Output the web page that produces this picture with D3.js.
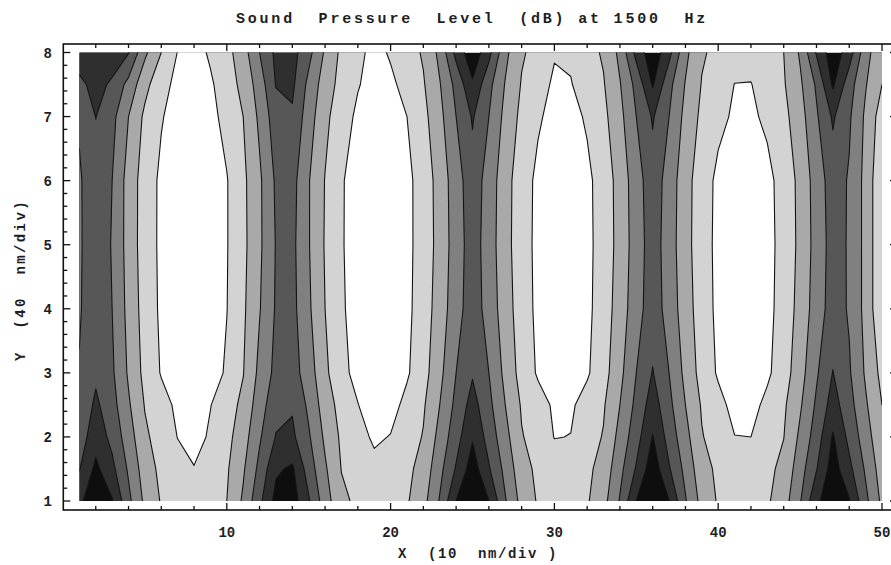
<!DOCTYPE html>
<html>
<head>
<meta charset="utf-8">
<script src="https://cdn.jsdelivr.net/npm/d3@7"></script>
<style>
  body { margin: 0; background: #fff; }
  svg { display: block; }
  text { font-family: "Liberation Mono", "DejaVu Sans Mono", monospace; font-weight: bold; fill: #1e1e1e; white-space: pre; }
</style>
</head>
<body>
<svg width="891" height="565"></svg>
<script>
// grid columns (x, 10 nm/div) and rows (y, 40 nm/div) of the sampled field
const xCols = [1,2,3,4,5,6,7,8,9,10,11,12,13,14,15,16,17,18,19,20,21,22,23,24,25,
               26,27,28,29,30,31,32,33,34,35,36,37,38,39,40,41,42,43,44,45,46,47,48,49,50];
const yRows = [1, 1.5, 2, 2.5, 3, 4, 5, 6, 7, 7.5, 8];

// level, one row per y (0 = black ... 6+ = white)
const rowY1   = [1.22,0.28,0.92,2.75,4.22,5.08,5.33,5.5,5.25,5.0, 3.85,2.25,0.68,0.52,1.89,3.54,4.78,5.2,5.45,5.35, 5.1,4.33,2.92,0.98,0.2,0.98,2.92,4.33,5.1,5.35, 5.35,5.1,4.33,2.92,0.98,0.2,0.98,2.92,4.33,5.1, 5.35,5.38,5.13,4.44,3.08,1.22,0.28,0.92,2.75,4.22];
const rowY1_5 = [2.05,0.77,1.74,3.14,4.5,5.25,5.66,5.95,5.54,5.12, 4.13,2.73,1.15,0.85,2.46,3.86,5.03,5.38,5.73,5.59, 5.24,4.63,3.29,1.9,0.5,1.9,3.29,4.63,5.21,5.52, 5.52,5.21,4.63,3.29,1.9,0.4,1.9,3.29,4.63,5.2, 5.48,5.51,5.23,4.75,3.43,2.05,0.53,1.74,3.14,4.5];
const rowY2   = [2.52,1.4,2.28,3.53,4.81,5.47,6.02,6.4,5.85,5.3, 4.44,3.13,1.95,1.8,2.88,4.19,5.17,5.66,6.15,5.96, 5.47,4.94,3.67,2.4,1.1,2.4,3.67,4.94,5.39,6.03, 5.98,5.39,4.94,3.67,2.4,0.95,2.4,3.67,4.94,5.45, 5.98,6.0,5.45,5.02,3.8,2.52,0.9,2.28,3.53,4.81];
const rowY2_5 = [2.84,1.8,2.63,3.87,5.06,5.63,6.2,6.6,6.03,5.46, 4.75,3.47,2.32,2.11,3.2,4.5,5.36,5.97,6.58,6.34, 5.73,5.12,4.0,2.74,1.6,2.74,4.0,5.1,5.62,6.14, 6.14,5.62,5.1,4.0,2.74,1.5,2.74,4.0,5.1,5.7, 6.3,6.32,5.75,5.16,4.13,2.84,1.57,2.63,3.87,5.0];
const rowY3   = [2.95,2.2,2.85,4.13,5.29,6.07,6.56,6.9,6.41,5.88, 5.04,3.75,2.72,2.58,3.5,4.8,5.71,6.32,6.8,6.61, 6.12,5.38,4.27,3.0,2.1,3.0,4.27,5.38,6.12,6.61, 6.61,6.12,5.38,4.27,3.0,1.95,3.0,4.27,5.38,6.12, 6.61,6.66,6.17,5.46,4.4,3.13,1.97,2.89,4.13,5.29];
const rowY4   = [3.08,2.45,3.0,4.3,5.43,6.17,6.66,7.0,6.51,6.02, 5.17,4.06,2.9,2.7,3.84,5.0,5.87,6.41,6.9,6.71, 6.22,5.52,4.53,3.41,2.45,3.41,4.53,5.52,6.22,6.71, 6.71,6.22,5.52,4.53,3.41,2.45,3.41,4.53,5.52,6.22, 6.71,6.76,6.27,5.61,4.65,3.52,2.54,3.1,4.3,5.9];
const rowY5   = [3.1,2.5,3.05,4.4,5.5,6.19,6.67,7.0,6.52,6.05, 5.25,4.18,2.95,2.75,3.94,5.08,5.92,6.43,6.9,6.71, 6.24,5.58,4.65,3.5,2.5,3.5,4.65,5.58,6.24,6.71, 6.71,6.24,5.58,4.65,3.5,2.5,3.5,4.65,5.58,6.24, 6.71,6.76,6.29,5.67,4.76,3.61,2.59,3.1,4.3,5.9];
const rowY6   = [3.1,2.45,3.0,4.4,5.48,6.19,6.67,7.0,6.52,6.05, 5.22,4.17,2.85,2.65,3.94,5.04,5.91,6.43,6.9,6.71, 6.24,5.57,4.61,3.44,2.4,3.44,4.61,5.57,6.21,6.64, 6.64,6.21,5.57,4.61,3.44,2.4,3.44,4.61,5.57,6.2, 6.61,6.65,6.24,5.65,4.72,3.56,2.49,3.1,4.3,5.9];
const rowY7   = [2.9,1.98,2.7,4.0,5.21,5.93,6.39,6.7,6.26,5.71, 5.0,3.8,2.43,2.14,3.53,4.76,5.57,6.18,6.61,6.44, 6.0,5.29,4.29,3.0,1.9,3.0,4.29,5.25,5.88,6.29, 6.29,5.88,5.25,4.29,3.0,1.9,3.0,4.29,5.22,5.78, 6.12,6.15,5.83,5.28,4.41,3.13,1.87,2.86,4.18,5.5];
const rowY7_5 = [2.3,1.6,2.2,3.3,4.7,5.68,6.25,6.5,6.14,5.48, 4.72,3.53,1.95,1.8,3.27,4.5,5.33,5.94,6.33,6.18, 5.7,5.09,4.06,2.71,1.15,2.71,4.06,5.07,5.75,6.1, 6.05,5.56,5.07,4.06,2.71,0.9,2.71,4.06,5.05,5.4, 6.02,6.04,5.43,5.09,4.17,2.86,0.85,2.57,3.93,5.0];
const rowY8   = [1.3,1.2,1.3,1.95,3.8,5.0,6.03,6.4,5.86,5.32, 4.43,3.0,1.78,1.65,2.69,4.14,5.22,5.76,6.29,5.9, 5.43,4.89,3.75,1.7,0.3,1.7,3.75,4.89,5.32,5.95, 5.85,5.32,4.89,3.75,1.7,0.3,1.7,3.75,4.89,5.25, 5.53,5.56,5.28,5.0,3.88,1.9,0.4,1.5,3.63,4.78];
const splGrid = [rowY1, rowY1_5, rowY2, rowY2_5, rowY3, rowY4, rowY5, rowY6, rowY7, rowY7_5, rowY8];

const levelThresholds = [1, 2, 3, 4, 5, 6];
const levelShades = ["#0e0e0e", "#2f2f2f", "#575757", "#808080", "#a9a9a9", "#d3d3d3", "#ffffff"];
const xTickLabels = [10, 20, 30, 40, 50];
const yTickLabels = [1, 2, 3, 4, 5, 6, 7, 8];

var svg = d3.select("svg");

// scales: data -> pixel
var x = d3.scaleLinear().domain([0, 50]).range([63, 882]);
var y = d3.scaleLinear().domain([1, 8]).range([501, 52.5]);

// grid index -> data coordinate (contour points sit half a cell off)
var colToX = d3.scaleLinear().domain(d3.range(xCols.length)).range(xCols);
var rowToY = d3.scaleLinear().domain(d3.range(yRows.length)).range(yRows);

var toPixel = d3.geoTransform({
    point: function(cx, cy) {
        this.stream.point(x(colToX(cx - 0.5)), y(rowToY(cy - 0.5)));
    }
});
var path = d3.geoPath(toPixel);

var bands = d3.contours()
    .size([xCols.length, yRows.length])
    .thresholds(levelThresholds)(splGrid.flat());

//////////// PLOT AREA ////////////
svg.append("clipPath").attr("id", "plotArea")
  .append("rect")
    .attr("x", x(1)).attr("y", y(8))
    .attr("width", x(50) - x(1))
    .attr("height", y(1) - y(8));

var plot = svg.append("g").attr("clip-path", "url(#plotArea)");

plot.append("rect")
    .attr("x", x(1)).attr("y", y(8))
    .attr("width", x(50) - x(1))
    .attr("height", y(1) - y(8))
    .attr("fill", levelShades[0]);

plot.selectAll("path.band")
    .data(bands)
    .join("path")
    .attr("class", "band")
    .attr("d", path)
    .attr("fill", function(d, i) { return levelShades[i + 1]; })
    .attr("stroke", "#141414")
    .attr("stroke-width", 1.1)
    .attr("stroke-linejoin", "round");

//////////// FRAME + TICKS ////////////
var fx0 = 63.3, fx1 = 897, fy0 = 44, fy1 = 510;

svg.append("rect")
    .attr("x", fx0).attr("y", fy0)
    .attr("width", fx1 - fx0).attr("height", fy1 - fy0)
    .attr("fill", "none")
    .attr("stroke", "#111")
    .attr("stroke-width", 1.6);

var ticks = svg.append("g").attr("stroke", "#111").attr("stroke-width", 1.3);

var xTicks = d3.range(1, 26).map(function(k) { return k * 2; });
xTicks.forEach(function(v) {
    var len = v % 10 === 0 ? 7 : 4;
    ticks.append("line").attr("x1", x(v)).attr("x2", x(v)).attr("y1", fy1).attr("y2", fy1 - len);
    ticks.append("line").attr("x1", x(v)).attr("x2", x(v)).attr("y1", fy0).attr("y2", fy0 + len);
});

var yTicks = d3.range(5, 41).map(function(k) { return k / 5; });
yTicks.forEach(function(v) {
    var len = Math.abs(v - Math.round(v)) < 1e-6 ? 7 : 4;
    ticks.append("line").attr("x1", fx0).attr("x2", fx0 + len).attr("y1", y(v)).attr("y2", y(v));
    ticks.append("line").attr("x1", fx1).attr("x2", fx1 - len).attr("y1", y(v)).attr("y2", y(v));
});

svg.selectAll(".xlab")
    .data(xTickLabels)
    .join("text")
    .attr("class", "xlab")
    .attr("x", function(d) { return x(d); })
    .attr("y", 537)
    .attr("text-anchor", "middle")
    .attr("font-size", 14)
    .text(function(d) { return d; });

svg.selectAll(".ylab")
    .data(yTickLabels)
    .join("text")
    .attr("class", "ylab")
    .attr("x", 52)
    .attr("y", function(d) { return y(d) + 5; })
    .attr("text-anchor", "end")
    .attr("font-size", 14)
    .text(function(d) { return d; });

//////////// TITLES ////////////
svg.append("text")
    .attr("x", 472).attr("y", 23)
    .attr("text-anchor", "middle")
    .attr("font-size", 15)
    .attr("letter-spacing", 2.8)
    .text("Sound  Pressure  Level  (dB) at 1500  Hz");

svg.append("text")
    .attr("x", 478).attr("y", 558)
    .attr("text-anchor", "middle")
    .attr("font-size", 14)
    .attr("letter-spacing", 1.6)
    .text("X  (10  nm/div )");

svg.append("text")
    .attr("transform", "translate(25,280) rotate(-90)")
    .attr("text-anchor", "middle")
    .attr("font-size", 14)
    .attr("letter-spacing", 2.4)
    .text("Y  (40  nm/div)");
</script>
</body>
</html>
